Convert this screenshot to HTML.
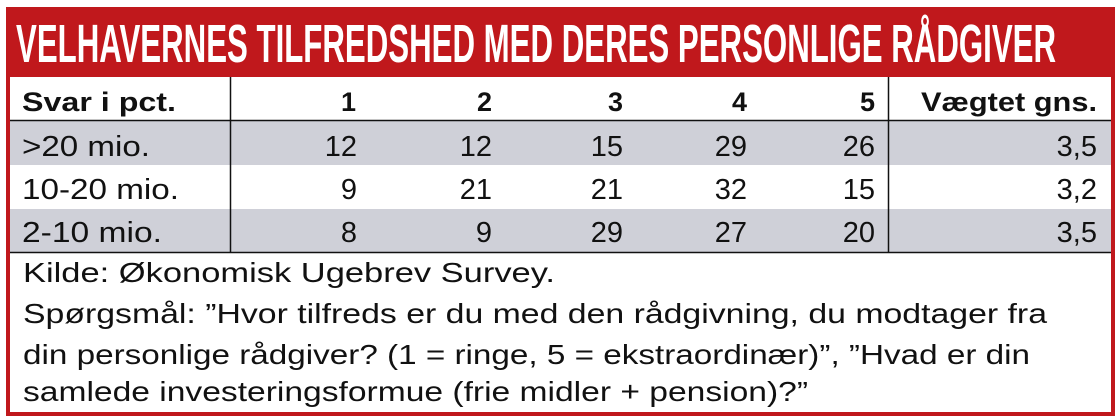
<!DOCTYPE html>
<html><head><meta charset="utf-8"><style>
html,body{margin:0;padding:0;background:#fff;width:1120px;height:420px;overflow:hidden}
svg{display:block}
text{font-family:"Liberation Sans",sans-serif;fill:#111}
</style></head><body>
<svg width="1120" height="420" viewBox="0 0 1120 420">
<rect x="6" y="7" width="1109" height="409" fill="#c0181c"/>
<rect x="10" y="77" width="1101" height="335" fill="#fff"/>
<rect x="10" y="121" width="1101" height="44" fill="#cfd0d8"/>
<rect x="10" y="209" width="1101" height="43" fill="#cfd0d8"/>
<g stroke="#111" stroke-width="1.5">
<line x1="10" y1="120.5" x2="1111" y2="120.5"/>
<line x1="10" y1="252.5" x2="1111" y2="252.5"/>
<line x1="230.5" y1="77" x2="230.5" y2="252"/>
<line x1="888.5" y1="77" x2="888.5" y2="252"/>
</g>
<text x="16" y="62" font-family="Liberation Sans Narrow, Liberation Sans, sans-serif" font-weight="bold" font-size="54" textLength="1040" lengthAdjust="spacingAndGlyphs" style="fill:#fff">VELHAVERNES TILFREDSHED MED DERES PERSONLIGE RÅDGIVER</text>
<g font-weight="bold" font-size="27">
<text x="22" y="111" textLength="154" lengthAdjust="spacingAndGlyphs">Svar i pct.</text>
<g text-anchor="end">
<text x="356" y="111">1</text><text x="492" y="111">2</text><text x="623" y="111">3</text><text x="747" y="111">4</text><text x="875" y="111">5</text>
<text x="1097" y="111" textLength="176" lengthAdjust="spacingAndGlyphs">Vægtet gns.</text>
</g></g>
<g font-size="29">
<text x="22" y="156" textLength="128" lengthAdjust="spacingAndGlyphs">&gt;20 mio.</text>
<text x="22" y="199" textLength="157" lengthAdjust="spacingAndGlyphs">10-20 mio.</text>
<text x="22" y="242" textLength="140" lengthAdjust="spacingAndGlyphs">2-10 mio.</text>
<g text-anchor="end">
<text x="357" y="156">12</text><text x="492" y="156">12</text><text x="623" y="156">15</text><text x="747" y="156">29</text><text x="875" y="156">26</text><text x="1097" y="156">3,5</text>
<text x="357" y="199">9</text><text x="492" y="199">21</text><text x="623" y="199">21</text><text x="747" y="199">32</text><text x="875" y="199">15</text><text x="1097" y="199">3,2</text>
<text x="357" y="242">8</text><text x="492" y="242">9</text><text x="623" y="242">29</text><text x="747" y="242">27</text><text x="875" y="242">20</text><text x="1097" y="242">3,5</text>
</g></g>
<g font-size="28">
<text x="23" y="282" textLength="532" lengthAdjust="spacingAndGlyphs">Kilde: Økonomisk Ugebrev Survey.</text>
<text x="23" y="323" textLength="1024" lengthAdjust="spacingAndGlyphs">Spørgsmål: ”Hvor tilfreds er du med den rådgivning, du modtager fra</text>
<text x="23" y="364" textLength="1007" lengthAdjust="spacingAndGlyphs">din personlige rådgiver? (1 = ringe, 5 = ekstraordinær)”, ”Hvad er din</text>
<text x="23" y="401" textLength="785" lengthAdjust="spacingAndGlyphs">samlede investeringsformue (frie midler + pension)?”</text>
</g>
</svg>
</body></html>
